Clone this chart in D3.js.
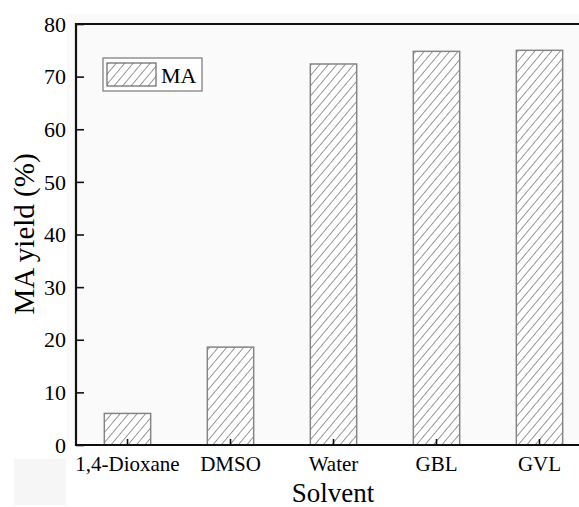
<!DOCTYPE html>
<html>
<head>
<meta charset="utf-8">
<script src="https://cdn.jsdelivr.net/npm/d3@7"></script>
<style>
  body { margin: 0; background: #fff; }
  svg { display: block; }
  text { font-family: "Liberation Serif", "Times New Roman", serif; fill: #000; }
</style>
</head>
<body>
<div id="chart"></div>
<script>
// data
var solvents = ["1,4-Dioxane", "DMSO", "Water", "GBL", "GVL"];
var yieldMA = [6.0, 18.6, 72.4, 74.8, 75.0];
var yTicks = [0, 10, 20, 30, 40, 50, 60, 70, 80];

var width = 579, height = 507;
var margin = {top: 24, left: 76, bottom: 62};
var plotRight = 591; // frame goes past the picture edge

var svg = d3.select("#chart").append("svg")
    .attr("width", width)
    .attr("height", height);

// hatch pattern
var defs = svg.append("defs");
var pat = defs.append("pattern")
    .attr("id", "hatch")
    .attr("patternUnits", "userSpaceOnUse")
    .attr("width", 6.5)
    .attr("height", 6.5)
    .attr("patternTransform", "rotate(40)");
pat.append("rect").attr("width", 6.5).attr("height", 6.5).attr("fill", "#fff");
pat.append("line")
    .attr("x1", 0).attr("y1", 0).attr("x2", 0).attr("y2", 6.5)
    .attr("stroke", "#444").attr("stroke-width", 1.1);

// light backdrop
svg.append("rect")
    .attr("x", 67).attr("y", 14)
    .attr("width", width - 67).attr("height", 440 - 14)
    .attr("fill", "#fafafa");
svg.append("rect")
    .attr("x", 14).attr("y", 459)
    .attr("width", 52).attr("height", 46)
    .attr("fill", "#f6f6f6");

var x = d3.scaleBand()
    .domain(solvents)
    .range([margin.left, plotRight])
    .paddingInner(0.55)
    .paddingOuter(0.275);

var y = d3.scaleLinear()
    .domain([0, 80])
    .range([height - margin.bottom, margin.top]);

var y0 = y(0);

// bars
svg.append("g").selectAll("rect")
    .data(yieldMA)
    .enter().append("rect")
    .attr("x", function (d, i) { return x(solvents[i]); })
    .attr("y", function (d) { return y(d); })
    .attr("width", x.bandwidth())
    .attr("height", function (d) { return y0 - y(d); })
    .attr("fill", "url(#hatch)")
    .attr("stroke", "#858585")
    .attr("stroke-width", 1.5);

// y axis, ticks inward
var yAxis = svg.append("g")
    .attr("transform", "translate(" + margin.left + ",0)")
    .call(d3.axisRight(y).tickValues(yTicks).tickSize(8).tickFormat(""));
yAxis.select(".domain").remove();
yAxis.selectAll("line").attr("stroke", "#111").attr("stroke-width", 1.6);

svg.append("g").selectAll("text")
    .data(yTicks)
    .enter().append("text")
    .attr("x", margin.left - 10)
    .attr("y", function (d) { return y(d); })
    .attr("dy", "0.35em")
    .attr("text-anchor", "end")
    .attr("font-size", 22)
    .text(function (d) { return d; });

// x axis, ticks inward
var xAxis = svg.append("g")
    .attr("transform", "translate(0," + y0 + ")")
    .call(d3.axisTop(x).tickSize(6).tickFormat(""));
xAxis.select(".domain").remove();
xAxis.selectAll("line").attr("stroke", "#111").attr("stroke-width", 1.6);

svg.append("g").selectAll("text")
    .data(solvents)
    .enter().append("text")
    .attr("x", function (d) { return x(d) + x.bandwidth() / 2; })
    .attr("y", 471)
    .attr("text-anchor", "middle")
    .attr("font-size", 21)
    .text(function (d) { return d; });

// frame
svg.append("path")
    .attr("d", "M" + plotRight + "," + margin.top + "H" + margin.left + "V" + y0 + "H" + plotRight)
    .attr("fill", "none")
    .attr("stroke", "#111")
    .attr("stroke-width", 2.2);

// axis titles
svg.append("text")
    .attr("transform", "translate(34,234) rotate(-90)")
    .attr("text-anchor", "middle")
    .attr("font-size", 29)
    .text("MA yield (%)");

svg.append("text")
    .attr("x", 333)
    .attr("y", 502)
    .attr("text-anchor", "middle")
    .attr("font-size", 27)
    .text("Solvent");

// legend
var leg = svg.append("g").attr("transform", "translate(103,58)");
leg.append("rect")
    .attr("width", 99).attr("height", 33)
    .attr("fill", "#fff")
    .attr("stroke", "#777").attr("stroke-width", 1.2);
leg.append("rect")
    .attr("x", 4).attr("y", 5)
    .attr("width", 49).attr("height", 23)
    .attr("fill", "url(#hatch)")
    .attr("stroke", "#666").attr("stroke-width", 1.2);
leg.append("text")
    .attr("x", 58).attr("y", 25)
    .attr("font-size", 22)
    .text("MA");
</script>
</body>
</html>
